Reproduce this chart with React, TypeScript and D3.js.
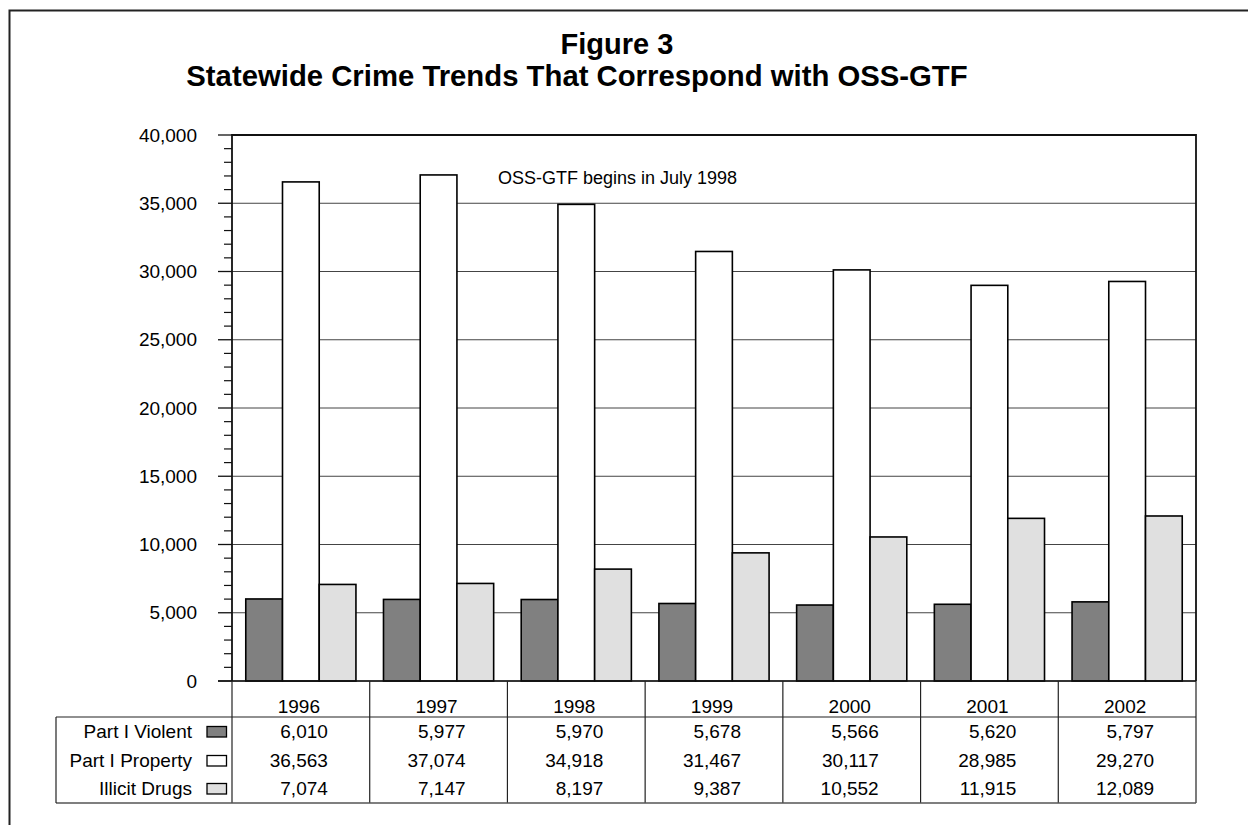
import React from "react";
import * as d3 from "d3";

const years = ["1996", "1997", "1998", "1999", "2000", "2001", "2002"];
const seriesNames = ["Part I Violent", "Part I Property", "Illicit Drugs"];
const violent = [6010, 5977, 5970, 5678, 5566, 5620, 5797];
const property = [36563, 37074, 34918, 31467, 30117, 28985, 29270];
const drugs = [7074, 7147, 8197, 9387, 10552, 11915, 12089];
const seriesFills = ["#808080", "#ffffff", "#e0e0e0"];
const yMajorTicks = [0, 5000, 10000, 15000, 20000, 25000, 30000, 35000, 40000];
const titleLine1 = "Figure 3";
const titleLine2 = "Statewide Crime Trends That Correspond with OSS-GTF";
const annotation = "OSS-GTF begins in July 1998";

const W = 1248;
const H = 825;
const FONT = "'Liberation Sans', Arial, Helvetica, sans-serif";
const FS = 19;

export default function App() {
  const plot = { left: 232, right: 1196, top: 135, bottom: 681 };
  const series = [violent, property, drugs];

  const x = d3.scaleBand<string>().domain(years).range([plot.left, plot.right]).paddingInner(0).paddingOuter(0);
  const inner = d3
    .scaleBand<number>()
    .domain([0, 1, 2])
    .range([0, x.bandwidth()])
    .paddingInner(0)
    .paddingOuter(0.375);
  const y = d3.scaleLinear().domain([0, 40000]).range([plot.bottom, plot.top]);
  const minorTicks = d3.range(0, 40001, 1000).filter((v) => v % 5000 !== 0);
  const fmt = d3.format(",");

  const tableTop = plot.bottom;
  const headerBottom = 717;
  const tableBottom = 803;
  const legendLeft = 56;
  const rowBaselines = [738, 767, 795];

  return (
    <svg
      width={W}
      height={H}
      style={{ position: "absolute", left: 0, top: 0, background: "#fff" }}
      fontFamily={FONT}
    >
      <rect x={0} y={0} width={W} height={H} fill="#fff" />
      {/* outer frame */}
      <path d={`M9.5,${H} V10.5 H${W}`} fill="none" stroke="#222" strokeWidth={2} />

      {/* title */}
      <text x={617} y={54} textAnchor="middle" fontSize={29} fontWeight="bold" fill="#000">
        {titleLine1}
      </text>
      <text x={577} y={86} textAnchor="middle" fontSize={29.3} fontWeight="bold" fill="#000">
        {titleLine2}
      </text>

      {/* gridlines */}
      {yMajorTicks.map((t) => (
        <line
          key={"g" + t}
          x1={plot.left}
          x2={plot.right}
          y1={y(t)}
          y2={y(t)}
          stroke="#444"
          strokeWidth={1}
        />
      ))}

      {/* bars */}
      {years.map((yr, i) => (
        <g key={yr} transform={`translate(${x(yr)},0)`}>
          {series.map((s, k) => (
            <rect
              key={k}
              x={inner(k)}
              y={y(s[i])}
              width={inner.bandwidth()}
              height={y(0) - y(s[i])}
              fill={seriesFills[k]}
              stroke="#000"
              strokeWidth={1.6}
            />
          ))}
        </g>
      ))}

      {/* plot border */}
      <path
        d={`M${plot.left},${plot.bottom} V${plot.top} H${plot.right} V${plot.bottom}`}
        fill="none"
        stroke="#111"
        strokeWidth={1.8}
      />
      <line x1={218} x2={plot.right} y1={plot.bottom} y2={plot.bottom} stroke="#111" strokeWidth={1.5} />

      {/* y ticks */}
      {yMajorTicks.map((t) => (
        <g key={"t" + t}>
          <line x1={218} x2={plot.left} y1={y(t)} y2={y(t)} stroke="#111" strokeWidth={1.3} />
          <text x={197} y={y(t)} dy="0.35em" textAnchor="end" fontSize={FS} fill="#000">
            {fmt(t)}
          </text>
        </g>
      ))}
      {minorTicks.map((t) => (
        <line key={"m" + t} x1={224} x2={plot.left} y1={y(t)} y2={y(t)} stroke="#111" strokeWidth={1.2} />
      ))}

      {/* annotation */}
      <text x={498} y={184} fontSize={18} fill="#000">
        {annotation}
      </text>

      {/* data table */}
      {years.map((yr, i) => {
        const cx = (x(yr) as number) + x.bandwidth() / 2;
        return (
          <g key={"col" + yr}>
            <text x={cx - 2} y={713} textAnchor="middle" fontSize={FS} fill="#000">
              {yr}
            </text>
            {series.map((s, k) => (
              <text key={k} x={cx + 27} y={rowBaselines[k]} textAnchor="end" fontSize={FS} fill="#000">
                {fmt(s[i])}
              </text>
            ))}
          </g>
        );
      })}
      {/* table vertical lines */}
      {years.map((yr) => (
        <line
          key={"v" + yr}
          x1={x(yr)}
          x2={x(yr)}
          y1={tableTop}
          y2={tableBottom}
          stroke="#222"
          strokeWidth={1.2}
        />
      ))}
      <line x1={plot.right} x2={plot.right} y1={tableTop} y2={tableBottom} stroke="#222" strokeWidth={1.2} />
      <line x1={legendLeft} x2={plot.right} y1={headerBottom} y2={headerBottom} stroke="#222" strokeWidth={1.2} />
      <line x1={legendLeft} x2={plot.right} y1={tableBottom} y2={tableBottom} stroke="#555" strokeWidth={1.6} />
      <line x1={legendLeft} x2={legendLeft} y1={headerBottom} y2={tableBottom} stroke="#222" strokeWidth={1.2} />

      {/* legend rows */}
      {seriesNames.map((name, k) => (
        <g key={name}>
          <text x={192} y={rowBaselines[k]} textAnchor="end" fontSize={FS} fill="#000">
            {name}
          </text>
          <rect
            x={207}
            y={rowBaselines[k] - 11.5}
            width={19.5}
            height={10.5}
            fill={seriesFills[k]}
            stroke="#000"
            strokeWidth={1.3}
          />
        </g>
      ))}
    </svg>
  );
}
